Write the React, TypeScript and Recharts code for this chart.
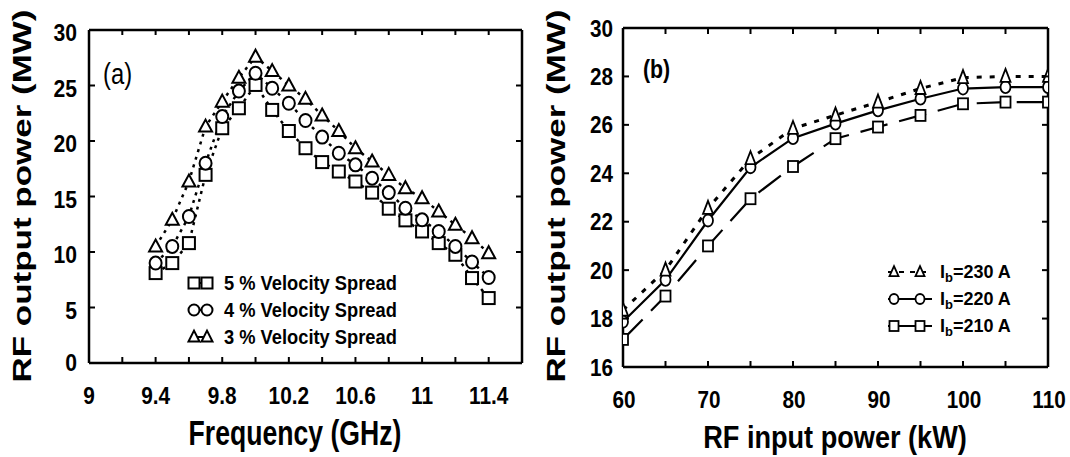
import React from 'react';
import { LineChart, Line, XAxis, YAxis } from 'recharts';

const FONT = "'Liberation Sans', Arial, Helvetica, sans-serif";

// ---------- Panel (a): RF output power vs frequency ----------
const FREQ_GHZ = [9.4, 9.5, 9.6, 9.7, 9.8, 9.9, 10.0, 10.1, 10.2, 10.3, 10.4, 10.5, 10.6, 10.7, 10.8, 10.9, 11.0, 11.1, 11.2, 11.3, 11.4];
const SPREAD_5 = [8.1, 9.0, 10.8, 16.95, 21.15, 22.95, 25.05, 22.8, 20.9, 19.35, 18.1, 17.25, 16.35, 15.35, 13.9, 12.85, 11.85, 10.8, 9.75, 7.65, 5.85];
const SPREAD_4 = [9.0, 10.5, 13.2, 18.0, 22.2, 24.5, 26.1, 24.75, 23.4, 21.85, 20.35, 18.9, 17.85, 16.65, 15.35, 13.95, 12.9, 11.85, 10.5, 9.1, 7.7];
const SPREAD_3 = [10.5, 12.9, 16.35, 21.3, 23.55, 25.7, 27.6, 26.3, 25.0, 23.8, 22.3, 20.9, 19.35, 18.15, 16.95, 15.75, 14.85, 13.65, 12.45, 11.25, 9.9];
const FREQ_TICKS = [9, 9.2, 9.4, 9.6, 9.8, 10, 10.2, 10.4, 10.6, 10.8, 11, 11.2, 11.4];
const FREQ_TICK_LABELS = [9, 9.4, 9.8, 10.2, 10.6, 11, 11.4];
const POWER_A_TICKS = [0, 5, 10, 15, 20, 25, 30];
const LEGEND_A = ['5 % Velocity Spread', '4 % Velocity Spread', '3 % Velocity Spread'];

// ---------- Panel (b): RF output power vs RF input power ----------
const RF_IN_KW = [60, 65, 70, 75, 80, 85, 90, 95, 100, 105, 110];
const IB_230 = [18.35, 20.0, 22.55, 24.6, 25.85, 26.4, 26.94, 27.5, 27.95, 28.0, 28.0];
const IB_220 = [17.87, 19.6, 22.05, 24.25, 25.45, 26.05, 26.6, 27.08, 27.5, 27.56, 27.56];
const IB_210 = [17.14, 18.93, 21.0, 22.95, 24.28, 25.43, 25.91, 26.39, 26.87, 26.94, 26.94];
const RF_IN_TICKS = [60, 65, 70, 75, 80, 85, 90, 95, 100, 105, 110];
const RF_IN_TICK_LABELS = [60, 70, 80, 90, 100, 110];
const POWER_B_TICKS = [16, 18, 20, 22, 24, 26, 28, 30];
const LEGEND_B = ['230', '220', '210'];

const dataA = FREQ_GHZ.map((x, i) => ({ x, s5: SPREAD_5[i], s4: SPREAD_4[i], s3: SPREAD_3[i] }));
const dataB = RF_IN_KW.map((x, i) => ({ x, i230: IB_230[i], i220: IB_220[i], i210: IB_210[i] }));

// geometry (plot rectangles in each chart's own SVG)
const A = { W: 540, H: 457, left: 89, right: 522, top: 30, bottom: 363 };
const B = { W: 530, H: 457, left: 83, right: 508, top: 28, bottom: 367 };
const AX = 1; // thickness reserved by each axis

const AXIS = { stroke: '#000', strokeWidth: 2.5 };

type Shape = 'square' | 'circle' | 'triangle';

function Marker({ cx, cy, shape, w, h, sw }: { cx: number; cy: number; shape: Shape; w: number; h: number; sw: number }) {
  if (cx == null || cy == null || isNaN(cx) || isNaN(cy)) return null;
  if (shape === 'square')
    return <rect x={cx - w / 2} y={cy - h / 2} width={w} height={h} fill="#fff" stroke="#000" strokeWidth={sw} />;
  if (shape === 'circle')
    return <ellipse cx={cx} cy={cy} rx={w / 2} ry={h / 2} fill="#fff" stroke="#000" strokeWidth={sw} />;
  const pts = `${cx},${cy - h * 0.58} ${cx + w / 2},${cy + h * 0.42} ${cx - w / 2},${cy + h * 0.42}`;
  return <polygon points={pts} fill="#fff" stroke="#000" strokeWidth={sw} strokeLinejoin="miter" />;
}

function SText({ x, y, sx = 1, anchor = 'start', size, weight = 'bold', rotate = false, children }: any) {
  const tr = rotate
    ? `translate(${x},${y}) scale(${sx},1) rotate(-90)`
    : `translate(${x},${y}) scale(${sx},1)`;
  return (
    <text transform={tr} x={0} y={0} textAnchor={anchor} fontSize={size} fontWeight={weight} fontFamily={FONT} fill="#000">
      {children}
    </text>
  );
}

const has = (arr: number[], v: number) => arr.some((t) => Math.abs(t - v) < 1e-6);
const coordOf = (p: any, fallback: number) =>
  p && p.payload && typeof p.payload.coordinate === 'number' ? p.payload.coordinate : fallback;

// ---- ticks for panel (a)
const tickABottom = (p: any) => {
  const x = coordOf(p, p.x);
  const v = p.payload.value;
  return (
    <g key={`ab-${v}`}>
      <line x1={x} x2={x} y1={A.bottom} y2={A.bottom - 6} stroke="#000" strokeWidth={2} />
      {has(FREQ_TICK_LABELS, v) && (
        <SText x={x} y={404} anchor="middle" size={24.5} sx={0.85}>{String(v)}</SText>
      )}
    </g>
  );
};
const tickATop = (p: any) => {
  const x = coordOf(p, p.x);
  return <line key={`at-${p.payload.value}`} x1={x} x2={x} y1={A.top} y2={A.top + 5} stroke="#000" strokeWidth={2} />;
};
const tickALeft = (p: any) => {
  const y = coordOf(p, p.y);
  const v = p.payload.value;
  return (
    <g key={`al-${v}`}>
      <line x1={A.left} x2={A.left + 6} y1={y} y2={y} stroke="#000" strokeWidth={2} />
      <SText x={77} y={y + (v === 0 ? 8 : 11)} anchor="end" size={23} sx={0.92}>{String(v)}</SText>
    </g>
  );
};
const tickARight = (p: any) => {
  const y = coordOf(p, p.y);
  return <line key={`ar-${p.payload.value}`} x1={A.right} x2={A.right - 6} y1={y} y2={y} stroke="#000" strokeWidth={2} />;
};

// ---- ticks for panel (b)
const tickBBottom = (p: any) => {
  const x = coordOf(p, p.x);
  const v = p.payload.value;
  return (
    <g key={`bb-${v}`}>
      <line x1={x} x2={x} y1={B.bottom} y2={B.bottom - 6} stroke="#000" strokeWidth={2} />
      {has(RF_IN_TICK_LABELS, v) && (
        <SText x={x + 1} y={408} anchor="middle" size={23} sx={0.9}>{String(v)}</SText>
      )}
    </g>
  );
};
const tickBTop = (p: any) => {
  const x = coordOf(p, p.x);
  return <line key={`bt-${p.payload.value}`} x1={x} x2={x} y1={B.top} y2={B.top + 6} stroke="#000" strokeWidth={2} />;
};
const tickBLeft = (p: any) => {
  const y = coordOf(p, p.y);
  const v = p.payload.value;
  return (
    <g key={`bl-${v}`}>
      <line x1={B.left} x2={B.left + 6} y1={y} y2={y} stroke="#000" strokeWidth={2} />
      <SText x={73} y={y + 8.5} anchor="end" size={23} sx={0.9}>{String(v)}</SText>
    </g>
  );
};
const tickBRight = (p: any) => {
  const y = coordOf(p, p.y);
  return <line key={`br-${p.payload.value}`} x1={B.right} x2={B.right - 6} y1={y} y2={y} stroke="#000" strokeWidth={2} />;
};

const dotFn = (shape: Shape, w: number, h: number, sw: number) => (p: any) =>
  <Marker key={`m-${shape}-${p.index}`} cx={p.cx} cy={p.cy} shape={shape} w={w} h={h} sw={sw} />;

function LegendA() {
  const shapes: Shape[] = ['square', 'circle', 'triangle'];
  const ys = [283, 310, 337];
  return (
    <g>
      {LEGEND_A.map((t, i) => (
        <g key={t}>
          <line x1={194} x2={207} y1={ys[i]} y2={ys[i]} stroke="#000" strokeWidth={2} />
          <Marker cx={194} cy={ys[i]} shape={shapes[i]} w={11} h={11} sw={2} />
          <Marker cx={207} cy={ys[i]} shape={shapes[i]} w={11} h={11} sw={2} />
          <SText x={224} y={ys[i] + 7} size={20} sx={0.915}>{t}</SText>
        </g>
      ))}
    </g>
  );
}

function LegendB() {
  const shapes: Shape[] = ['triangle', 'circle', 'square'];
  const dashes = ['5 6', undefined, undefined];
  const ys = [272, 299, 326];
  return (
    <g>
      {LEGEND_B.map((t, i) => (
        <g key={t}>
          <line x1={348} x2={392} y1={ys[i]} y2={ys[i]} stroke="#000" strokeWidth={2} strokeDasharray={dashes[i]} />
          <Marker cx={354} cy={ys[i]} shape={shapes[i]} w={9} h={10} sw={1.8} />
          <Marker cx={380} cy={ys[i]} shape={shapes[i]} w={9} h={10} sw={1.8} />
          <text x={400} y={ys[i] + 6} fontSize={18} fontWeight="bold" fontFamily={FONT} fill="#000">
            <tspan>I</tspan>
            <tspan fontSize={13} dy={4}>b</tspan>
            <tspan dy={-4}>{`=${t} A`}</tspan>
          </text>
        </g>
      ))}
    </g>
  );
}

function PanelA() {
  return (
    <LineChart width={A.W} height={A.H} data={dataA}
      margin={{ top: A.top - AX, right: A.W - A.right - AX, bottom: A.H - A.bottom - AX, left: A.left - AX }}>
      <XAxis xAxisId="b" dataKey="x" type="number" domain={[9, 11.6]} ticks={FREQ_TICKS} interval={0}
        height={AX} tickLine={false} axisLine={AXIS} tick={tickABottom} allowDataOverflow />
      <XAxis xAxisId="t" orientation="top" dataKey="x" type="number" domain={[9, 11.6]} ticks={FREQ_TICKS} interval={0}
        height={AX} tickLine={false} axisLine={AXIS} tick={tickATop} allowDataOverflow />
      <YAxis yAxisId="l" type="number" domain={[0, 30]} ticks={POWER_A_TICKS} interval={0}
        width={AX} tickLine={false} axisLine={AXIS} tick={tickALeft} allowDataOverflow />
      <YAxis yAxisId="r" orientation="right" type="number" domain={[0, 30]} ticks={POWER_A_TICKS} interval={0}
        width={AX} tickLine={false} axisLine={AXIS} tick={tickARight} allowDataOverflow />
      <Line xAxisId="b" yAxisId="l" dataKey="s5" stroke="#000" strokeWidth={2.5} strokeDasharray="3 5"
        dot={dotFn('square', 12, 12, 2)} activeDot={false} isAnimationActive={false} />
      <Line xAxisId="b" yAxisId="l" dataKey="s4" stroke="#000" strokeWidth={2.5} strokeDasharray="3 5"
        dot={dotFn('circle', 12, 13, 2)} activeDot={false} isAnimationActive={false} />
      <Line xAxisId="b" yAxisId="l" dataKey="s3" stroke="#000" strokeWidth={2.5} strokeDasharray="3 5"
        dot={dotFn('triangle', 13, 12, 2)} activeDot={false} isAnimationActive={false} />
      <SText x={103} y={84} size={29} weight="normal" sx={0.82}>(a)</SText>
      <SText x={295} y={445} anchor="middle" size={35} sx={0.76}>Frequency (GHz)</SText>
      <SText x={31} y={196} anchor="middle" size={35} sx={0.74} rotate>RF output power (MW)</SText>
      <LegendA />
    </LineChart>
  );
}

function PanelB() {
  return (
    <LineChart width={B.W} height={B.H} data={dataB}
      margin={{ top: B.top - AX, right: B.W - B.right - AX, bottom: B.H - B.bottom - AX, left: B.left - AX }}>
      <XAxis xAxisId="b" dataKey="x" type="number" domain={[60, 110]} ticks={RF_IN_TICKS} interval={0}
        height={AX} tickLine={false} axisLine={AXIS} tick={tickBBottom} allowDataOverflow />
      <XAxis xAxisId="t" orientation="top" dataKey="x" type="number" domain={[60, 110]} ticks={RF_IN_TICKS} interval={0}
        height={AX} tickLine={false} axisLine={AXIS} tick={tickBTop} allowDataOverflow />
      <YAxis yAxisId="l" type="number" domain={[16, 30]} ticks={POWER_B_TICKS} interval={0}
        width={AX} tickLine={false} axisLine={AXIS} tick={tickBLeft} allowDataOverflow />
      <YAxis yAxisId="r" orientation="right" type="number" domain={[16, 30]} ticks={POWER_B_TICKS} interval={0}
        width={AX} tickLine={false} axisLine={AXIS} tick={tickBRight} allowDataOverflow />
      <Line xAxisId="b" yAxisId="l" dataKey="i210" stroke="#000" strokeWidth={2.2} strokeDasharray="28 12"
        dot={dotFn('square', 10, 11, 1.8)} activeDot={false} isAnimationActive={false} />
      <Line xAxisId="b" yAxisId="l" dataKey="i220" stroke="#000" strokeWidth={2.2}
        dot={dotFn('circle', 10, 12, 1.8)} activeDot={false} isAnimationActive={false} />
      <Line xAxisId="b" yAxisId="l" dataKey="i230" stroke="#000" strokeWidth={3} strokeDasharray="5 8"
        dot={dotFn('triangle', 10, 13, 1.8)} activeDot={false} isAnimationActive={false} />
      <SText x={103} y={78} size={26} sx={0.82}>(b)</SText>
      <SText x={295} y={448} anchor="middle" size={31} sx={0.875}>RF input power (kW)</SText>
      <SText x={25} y={196} anchor="middle" size={35} sx={0.74} rotate>RF output power (MW)</SText>
      <LegendB />
    </LineChart>
  );
}

export default function App() {
  return (
    <div style={{ position: 'absolute', left: 0, top: 0, width: 1070, height: 457, background: '#fff', display: 'flex' }}>
      <PanelA />
      <PanelB />
    </div>
  );
}
